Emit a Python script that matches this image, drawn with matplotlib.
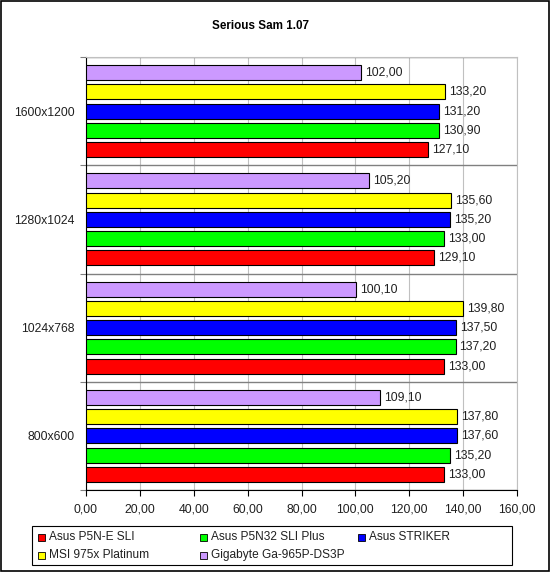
import numpy as np
import matplotlib.pyplot as plt
from matplotlib.patches import Rectangle

plt.rcParams['font.family'] = ['Liberation Sans', 'DejaVu Sans']

# data
resolutions = ['800x600', '1024x768', '1280x1024', '1600x1200']
boards = ['Asus P5N-E SLI', 'Asus P5N32 SLI Plus', 'Asus STRIKER',
          'MSI 975x Platinum', 'Gigabyte Ga-965P-DS3P']
p5ne = [133.00, 133.00, 129.10, 127.10]
p5n32 = [135.20, 137.20, 133.00, 130.90]
striker = [137.60, 137.50, 135.20, 131.20]
msi975 = [137.80, 139.80, 135.60, 133.20]
gigabyte = [109.10, 100.10, 105.20, 102.00]
xticks = [0, 20, 40, 60, 80, 100, 120, 140, 160]

series = [p5ne, p5n32, striker, msi975, gigabyte]
colors = ['#FF0000', '#00FF00', '#0000FF', '#FFFF00', '#CC99FF']
fs = 8.8

fig = plt.figure(figsize=(5.5, 5.72), dpi=100)
ax = fig.add_axes([86/550, 1-490/572, (517-86)/550, (490-57)/572])

y = np.arange(len(resolutions))
pitch = 0.178
h = 0.14
for k, vals in enumerate(series):
    yy = y + (k - 2) * pitch
    ax.barh(yy, vals, height=h, color=colors[k], edgecolor='black', linewidth=0.8, zorder=3)
    for yi, v in zip(yy, vals):
        ax.text(v + 1.5, yi, ('%.2f' % v).replace('.', ','), va='center', ha='left',
                fontsize=fs, color='#202020')

ax.set_xlim(0, 160)
ax.set_ylim(-0.5, 3.5)
ax.set_xticks(xticks)
ax.set_xticklabels([('%.2f' % t).replace('.', ',') for t in xticks], fontsize=fs, color='#202020')
ax.xaxis.grid(True, color='#C0C0C0', linewidth=0.8, zorder=0)

# category separators as major ticks, labels on minor ticks
ax.set_yticks(np.arange(-0.5, 4, 1))
ax.set_yticklabels([])
ax.set_yticks(y, minor=True)
ax.set_yticklabels(resolutions, minor=True, fontsize=fs, color='#202020')
ax.yaxis.grid(True, which='major', color='#808080', linewidth=1, zorder=1)
ax.tick_params(axis='y', which='major', length=4, direction='out', color='#808080')
ax.tick_params(axis='y', which='minor', length=0, pad=8)
ax.tick_params(axis='x', length=4, direction='out', pad=6)

for s in ['top', 'right']:
    ax.spines[s].set_color('#C0C0C0')
for s in ['left', 'bottom']:
    ax.spines[s].set_color('black')

fig.text(261/550, 1-26/572, 'Serious Sam 1.07', ha='center', va='center',
         fontsize=8.4, fontweight='bold')

# legend box drawn by hand
fig.patches.append(Rectangle((32/550, 1-565/572), (512-32)/550, (565-526)/572,
                             transform=fig.transFigure, facecolor='white',
                             edgecolor='black', linewidth=0.8))
leg_x = [38, 200, 358]
leg_y = [537, 555]
order = [(0, 0), (1, 0), (2, 0), (0, 1), (1, 1)]
for k, (c, r) in enumerate(order):
    x0 = leg_x[c] / 550
    y0 = 1 - leg_y[r] / 572
    fig.patches.append(Rectangle((x0, y0 - 3.5/572), 7/550, 7/572,
                                 transform=fig.transFigure, facecolor=colors[k],
                                 edgecolor='black', linewidth=0.6))
    fig.text(x0 + 11/550, y0, boards[k], ha='left', va='center', fontsize=8.6, color='#202020')

# outer border
fig.patches.append(Rectangle((0.001, 0.001), 0.997, 0.997, transform=fig.transFigure,
                             facecolor='none', edgecolor='black', linewidth=1.2))

fig.savefig('out.png', dpi=100)
